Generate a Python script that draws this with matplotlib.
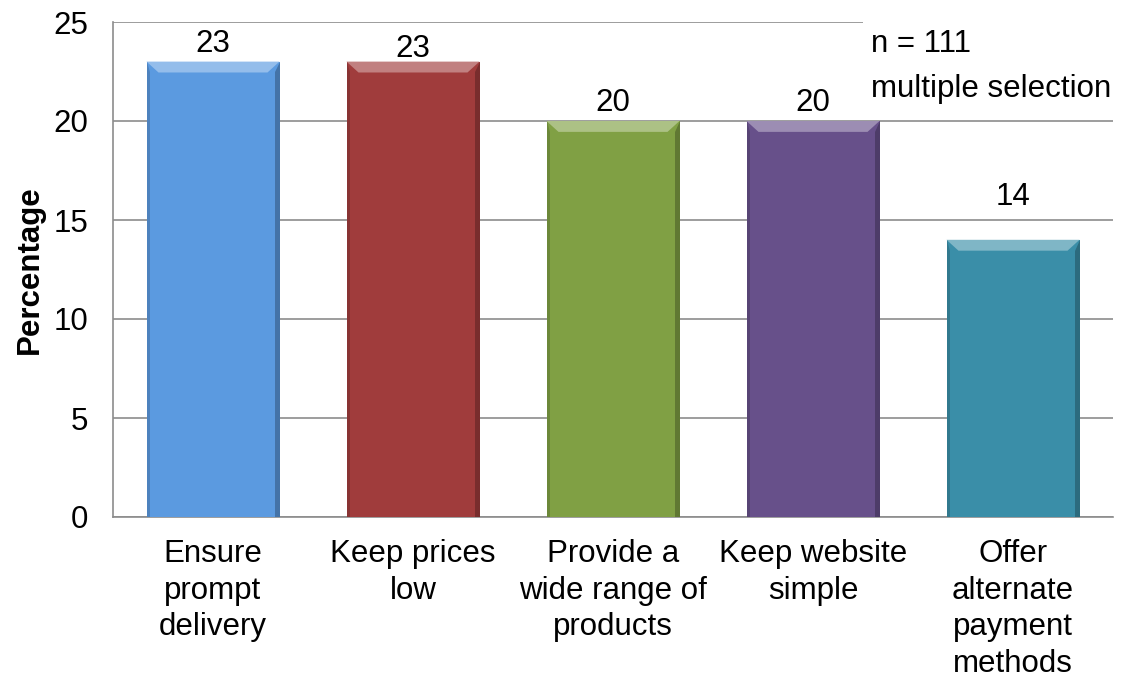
import matplotlib.pyplot as plt
import matplotlib.colors as mcolors
from matplotlib.patches import Polygon
import numpy as np

plt.rcParams['font.family'] = ['Liberation Sans', 'DejaVu Sans']

categories = ["Ensure\nprompt\ndelivery", "Keep prices\nlow", "Provide a\nwide range of\nproducts",
              "Keep website\nsimple", "Offer\nalternate\npayment\nmethods"]
values = [23, 23, 20, 20, 14]
colors = ["#5B9AE0", "#A03C3C", "#80A044", "#67508A", "#3A8EA8"]

FS = 22.5

fig = plt.figure(figsize=(11.23, 6.79), dpi=100)
ax = fig.add_axes([113 / 1123, 1 - 517 / 679, 1000 / 1123, 495 / 679])

x = np.arange(len(values))
w = 0.665
bars = ax.bar(x, values, width=w, color=colors, zorder=3, edgecolor="none")

# rough bevel: lighter top, darker sides
for xi, v, c in zip(x, values, colors):
    l, r = xi - w / 2, xi + w / 2
    dx, dy = 0.06, 0.55
    top = mcolors.to_rgb(c)
    light = tuple(min(1, t + 0.35 * (1 - t)) for t in top)
    dark = tuple(t * 0.75 for t in top)
    ax.add_patch(Polygon([(l, v), (r, v), (r - dx, v - dy), (l + dx, v - dy)],
                         closed=True, color=light, zorder=4, lw=0))
    ax.add_patch(Polygon([(r, v), (r, 0), (r - dx * 0.4, 0), (r - dx * 0.4, v - dy)],
                         closed=True, color=dark, zorder=4, lw=0))
    ax.add_patch(Polygon([(l, v), (l, 0), (l + dx * 0.25, 0), (l + dx * 0.25, v - dy)],
                         closed=True, color=dark, zorder=4, lw=0, alpha=0.6))

# data labels (Excel placed them a bit unevenly)
label_lift = [0.15, -0.1, 0.15, 0.15, 1.4]
for xi, v, lift in zip(x, values, label_lift):
    ax.text(xi, v + lift, str(v), ha="center", va="bottom", fontsize=FS, zorder=5)

ax.set_xlim(-0.5, len(values) - 0.5)
ax.set_ylim(0, 25)
ax.set_yticks(range(0, 26, 5))
ax.yaxis.grid(True, color="#8C8C8C", lw=1.2, zorder=0)
ax.set_xticks(x)
ax.set_xticklabels(categories, fontsize=FS, linespacing=1.28)
ax.tick_params(axis="x", length=0, pad=16)
ax.tick_params(axis="y", length=0, pad=18, labelsize=FS)
ax.set_ylabel("Percentage", fontsize=FS, fontweight="bold", labelpad=6)

for s in ["top", "right"]:
    ax.spines[s].set_visible(False)
for s in ["left", "bottom"]:
    ax.spines[s].set_color("#8C8C8C")
    ax.spines[s].set_linewidth(1.2)

ax.text(0.758, 0.985, "n = 111\nmultiple selection", transform=ax.transAxes, fontsize=FS,
        ha="left", va="top", linespacing=1.65, zorder=6,
        bbox=dict(facecolor="white", edgecolor="none", pad=6))

fig.savefig("out.png", dpi=100)
